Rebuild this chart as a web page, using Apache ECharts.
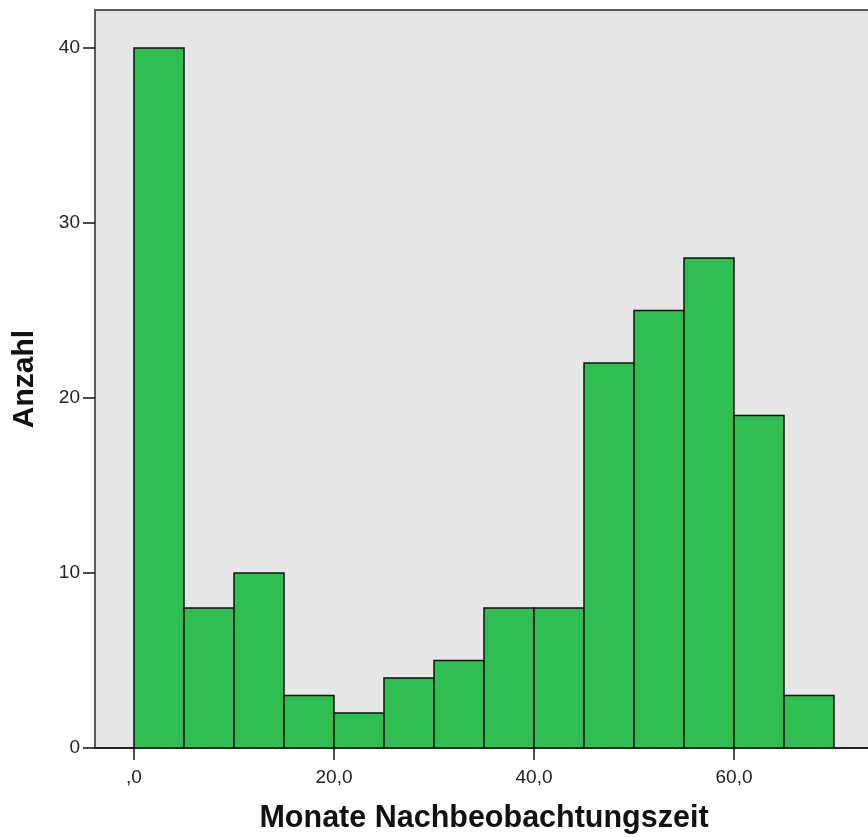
<!DOCTYPE html>
<html>
<head>
<meta charset="utf-8">
<script src="https://cdn.jsdelivr.net/npm/echarts@6/dist/echarts.min.js"></script>
<style>
html,body{margin:0;padding:0;background:#fff;}
#c{width:868px;height:837px;}
</style>
</head>
<body>
<div id="c"></div>
<script>
// Histogram bins (months) and counts
const binStarts = [0, 5, 10, 15, 20, 25, 30, 35, 40, 45, 50, 55, 60, 65];
const binWidth = 5;
const counts = [40, 8, 10, 3, 2, 4, 5, 8, 8, 22, 25, 28, 19, 3];
const xTicks = [0, 20, 40, 60];
const xTickLabels = [",0", "20,0", "40,0", "60,0"];
const yTicks = [0, 10, 20, 30, 40];
const xName = "Monate Nachbeobachtungszeit";
const yName = "Anzahl";

const data = binStarts.map((s, i) => [s, s + binWidth, counts[i]]);

const chart = echarts.init(document.getElementById('c'), null, {renderer: 'canvas'});
const font = '"Liberation Sans", Arial, sans-serif';
chart.setOption({
  animation: false,
  backgroundColor: '#ffffff',
  grid: {
    left: 95, top: 10, bottom: 89, right: -5,
    outerBoundsMode: 'none', containLabel: false,
    show: true, backgroundColor: '#e6e6e6',
    borderColor: '#5a5a5a', borderWidth: 2
  },
  xAxis: {
    type: 'value', min: -3.9, max: 73.9,
    name: xName, nameLocation: 'middle', nameGap: 55,
    nameTextStyle: {fontFamily: font, fontWeight: 'bold', fontSize: 30.5, color: '#111'},
    axisLine: {show: true, onZero: false, lineStyle: {color: '#111', width: 1.5}},
    axisTick: {show: true, customValues: xTicks, length: 12, lineStyle: {color: '#111', width: 1.5}},
    axisLabel: {
      customValues: xTicks, margin: 20,
      fontFamily: font, fontSize: 19, color: '#222',
      formatter: v => xTickLabels[xTicks.indexOf(v)] ?? ''
    },
    splitLine: {show: false}
  },
  yAxis: {
    type: 'value', min: 0, max: 42.17,
    name: yName, nameLocation: 'middle', nameGap: 55,
    nameTextStyle: {fontFamily: font, fontWeight: 'bold', fontSize: 30, color: '#111'},
    axisLine: {show: true, onZero: false, lineStyle: {color: '#5a5a5a', width: 2}},
    axisTick: {show: true, customValues: yTicks, length: 12, lineStyle: {color: '#111', width: 1.5}},
    axisLabel: {customValues: yTicks, margin: 15, fontFamily: font, fontSize: 19, color: '#222'},
    splitLine: {show: false}
  },
  series: [{
    type: 'custom',
    data: data,
    encode: {x: [0, 1], y: 2},
    clip: true,
    renderItem: function (params, api) {
      const p0 = api.coord([api.value(0), 0]);
      const p1 = api.coord([api.value(1), api.value(2)]);
      return {
        type: 'rect',
        shape: {x: p0[0], y: p1[1], width: p1[0] - p0[0], height: p0[1] - p1[1]},
        style: {fill: '#30be52', stroke: '#111', lineWidth: 1.5}
      };
    }
  }]
});
</script>
</body>
</html>
